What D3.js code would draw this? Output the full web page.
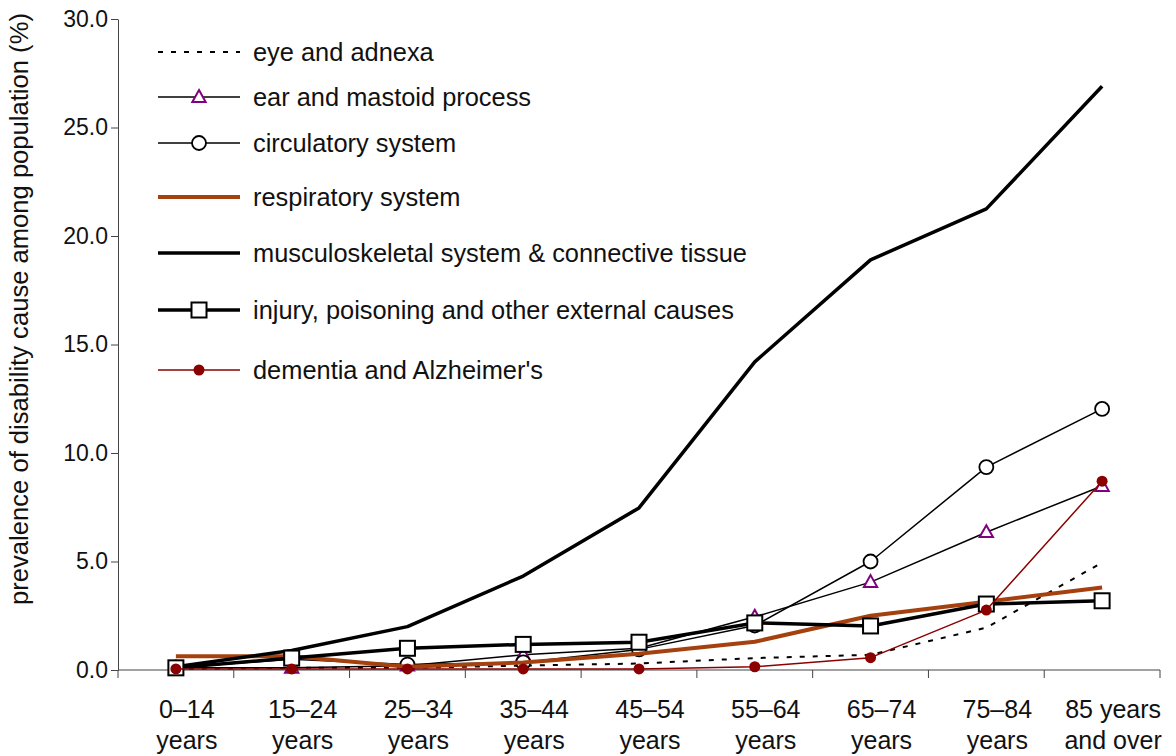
<!DOCTYPE html>
<html>
<head>
<meta charset="utf-8">
<script src="https://cdn.jsdelivr.net/npm/d3@7"></script>
<style>
  html, body { margin: 0; padding: 0; background: #fff; }
  svg { display: block; font-family: "Liberation Sans", Arial, sans-serif; }
</style>
</head>
<body>
<svg id="chart" width="1176" height="756"></svg>
<script>
// Age groups (two-line tick labels)
const ageGroups = ["0–14|years", "15–24|years", "25–34|years", "35–44|years", "45–54|years",
                   "55–64|years", "65–74|years", "75–84|years", "85 years|and over"];

// Prevalence (%) of each disability cause by age group
const eyeAdnexa      = [0.05, 0.10, 0.10, 0.20, 0.30, 0.55, 0.70, 1.95, 4.95];
const earMastoid     = [0.10, 0.10, 0.20, 0.70, 1.00, 2.45, 4.05, 6.35, 8.48];
const circulatory    = [0.10, 0.50, 0.25, 0.35, 0.95, 2.05, 5.00, 9.35, 12.03];
const respiratory    = [0.63, 0.63, 0.15, 0.35, 0.75, 1.30, 2.50, 3.15, 3.80];
const musculoskeletal= [0.15, 0.90, 2.00, 4.33, 7.47, 14.20, 18.90, 21.25, 26.90];
const injury         = [0.10, 0.55, 1.00, 1.18, 1.28, 2.17, 2.03, 3.04, 3.19];
const dementia       = [0.05, 0.05, 0.05, 0.05, 0.05, 0.15, 0.57, 2.76, 8.70];

const yTicks = [0, 5, 10, 15, 20, 25, 30];

const series = [
  { name: "eye and adnexa", values: eyeAdnexa, color: "#000", width: 2, dash: "5,8", marker: null },
  { name: "ear and mastoid process", values: earMastoid, color: "#000", width: 1.5, dash: null, marker: "triangle" },
  { name: "circulatory system", values: circulatory, color: "#000", width: 1.5, dash: null, marker: "circle" },
  { name: "respiratory system", values: respiratory, color: "#A5410E", width: 4, dash: null, marker: null },
  { name: "musculoskeletal system & connective tissue", values: musculoskeletal, color: "#000", width: 3.5, dash: null, marker: null },
  { name: "injury, poisoning and other external causes", values: injury, color: "#000", width: 3.5, dash: null, marker: "square" },
  { name: "dementia and Alzheimer's", values: dementia, color: "#8B0000", width: 1.5, dash: null, marker: "dot" }
];

const svg = d3.select("#chart");
const margin = { left: 118, right: 16, top: 19, bottom: 86 };
const W = 1176, H = 756;

const x = d3.scaleBand().domain(ageGroups).range([margin.left, W - margin.right]).padding(0);
const y = d3.scaleLinear().domain([0, 30]).range([H - margin.bottom, margin.top]);
const cx = d => x(d) + x.bandwidth() / 2;

// Axes
const axisColor = "#444";
const yAxis = svg.append("g").attr("transform", `translate(${margin.left},0)`)
  .call(d3.axisLeft(y).tickValues(yTicks).tickFormat(d3.format(".1f")).tickSize(7).tickSizeOuter(0));
yAxis.select(".domain").attr("stroke", axisColor);
yAxis.selectAll(".tick line").attr("stroke", axisColor);
yAxis.selectAll(".tick text").attr("font-size", 23).attr("fill", "#111")
  .attr("font-family", "Liberation Sans, Arial, sans-serif").attr("x", -10);

const xAxisG = svg.append("g").attr("transform", `translate(0,${y(0)})`);
xAxisG.append("line").attr("x1", margin.left).attr("x2", W - margin.right)
  .attr("stroke", axisColor);
const bounds = ageGroups.map(g => x(g)).concat([x(ageGroups[ageGroups.length - 1]) + x.bandwidth()]);
xAxisG.selectAll("line.tk").data(bounds).join("line").attr("class", "tk")
  .attr("x1", d => d).attr("x2", d => d).attr("y1", 0).attr("y2", 8).attr("stroke", axisColor);
const labelShift = 11;
const xl = xAxisG.selectAll("text.lbl").data(ageGroups).join("text").attr("class", "lbl")
  .attr("text-anchor", "middle").attr("font-size", 25).attr("fill", "#111");
xl.append("tspan").attr("x", d => cx(d) + labelShift).attr("y", 48).text(d => d.split("|")[0]);
xl.append("tspan").attr("x", d => cx(d) + labelShift).attr("y", 79).text(d => d.split("|")[1]);

// Y axis title
svg.append("text")
  .attr("transform", `translate(28,309) rotate(-90)`)
  .attr("text-anchor", "middle").attr("font-size", 25.6).attr("fill", "#111")
  .text("prevalence of disability cause among population (%)");

// Marker drawing
function drawMarker(g, type, px, py) {
  if (type === "triangle") {
    const s = 7;
    g.append("path").attr("d", `M${px},${py - s}L${px + s * 0.95},${py + s * 0.7}L${px - s * 0.95},${py + s * 0.7}Z`)
      .attr("fill", "#fff").attr("stroke", "#800080").attr("stroke-width", 2);
  } else if (type === "circle") {
    g.append("circle").attr("cx", px).attr("cy", py).attr("r", 7)
      .attr("fill", "#fff").attr("stroke", "#000").attr("stroke-width", 1.8);
  } else if (type === "square") {
    g.append("rect").attr("x", px - 7.5).attr("y", py - 7.5).attr("width", 15).attr("height", 15)
      .attr("fill", "#fff").attr("stroke", "#000").attr("stroke-width", 2);
  } else if (type === "dot") {
    g.append("circle").attr("cx", px).attr("cy", py).attr("r", 5.5).attr("fill", "#8B0000");
  }
}

// Lines and markers
const line = d3.line().x((d, i) => cx(ageGroups[i])).y(d => y(d));
series.forEach(s => {
  const g = svg.append("g");
  g.append("path").datum(s.values).attr("d", line).attr("fill", "none")
    .attr("stroke", s.color).attr("stroke-width", s.width)
    .attr("stroke-dasharray", s.dash).attr("stroke-linejoin", "round");
  if (s.marker) s.values.forEach((v, i) => drawMarker(g, s.marker, cx(ageGroups[i]), y(v)));
});

// Legend
const legendRows = [52, 97, 143, 197, 253, 310, 370];
const legend = svg.append("g");
series.forEach((s, i) => {
  const ly = legendRows[i];
  const g = legend.append("g");
  g.append("line").attr("x1", 158).attr("x2", 240).attr("y1", ly).attr("y2", ly)
    .attr("stroke", s.color).attr("stroke-width", s.width).attr("stroke-dasharray", s.dash);
  if (s.marker) drawMarker(g, s.marker, 199, ly);
  g.append("text").attr("x", 253).attr("y", ly + 9).attr("font-size", 25.4).attr("fill", "#111")
    .text(s.name);
});
</script>
</body>
</html>
